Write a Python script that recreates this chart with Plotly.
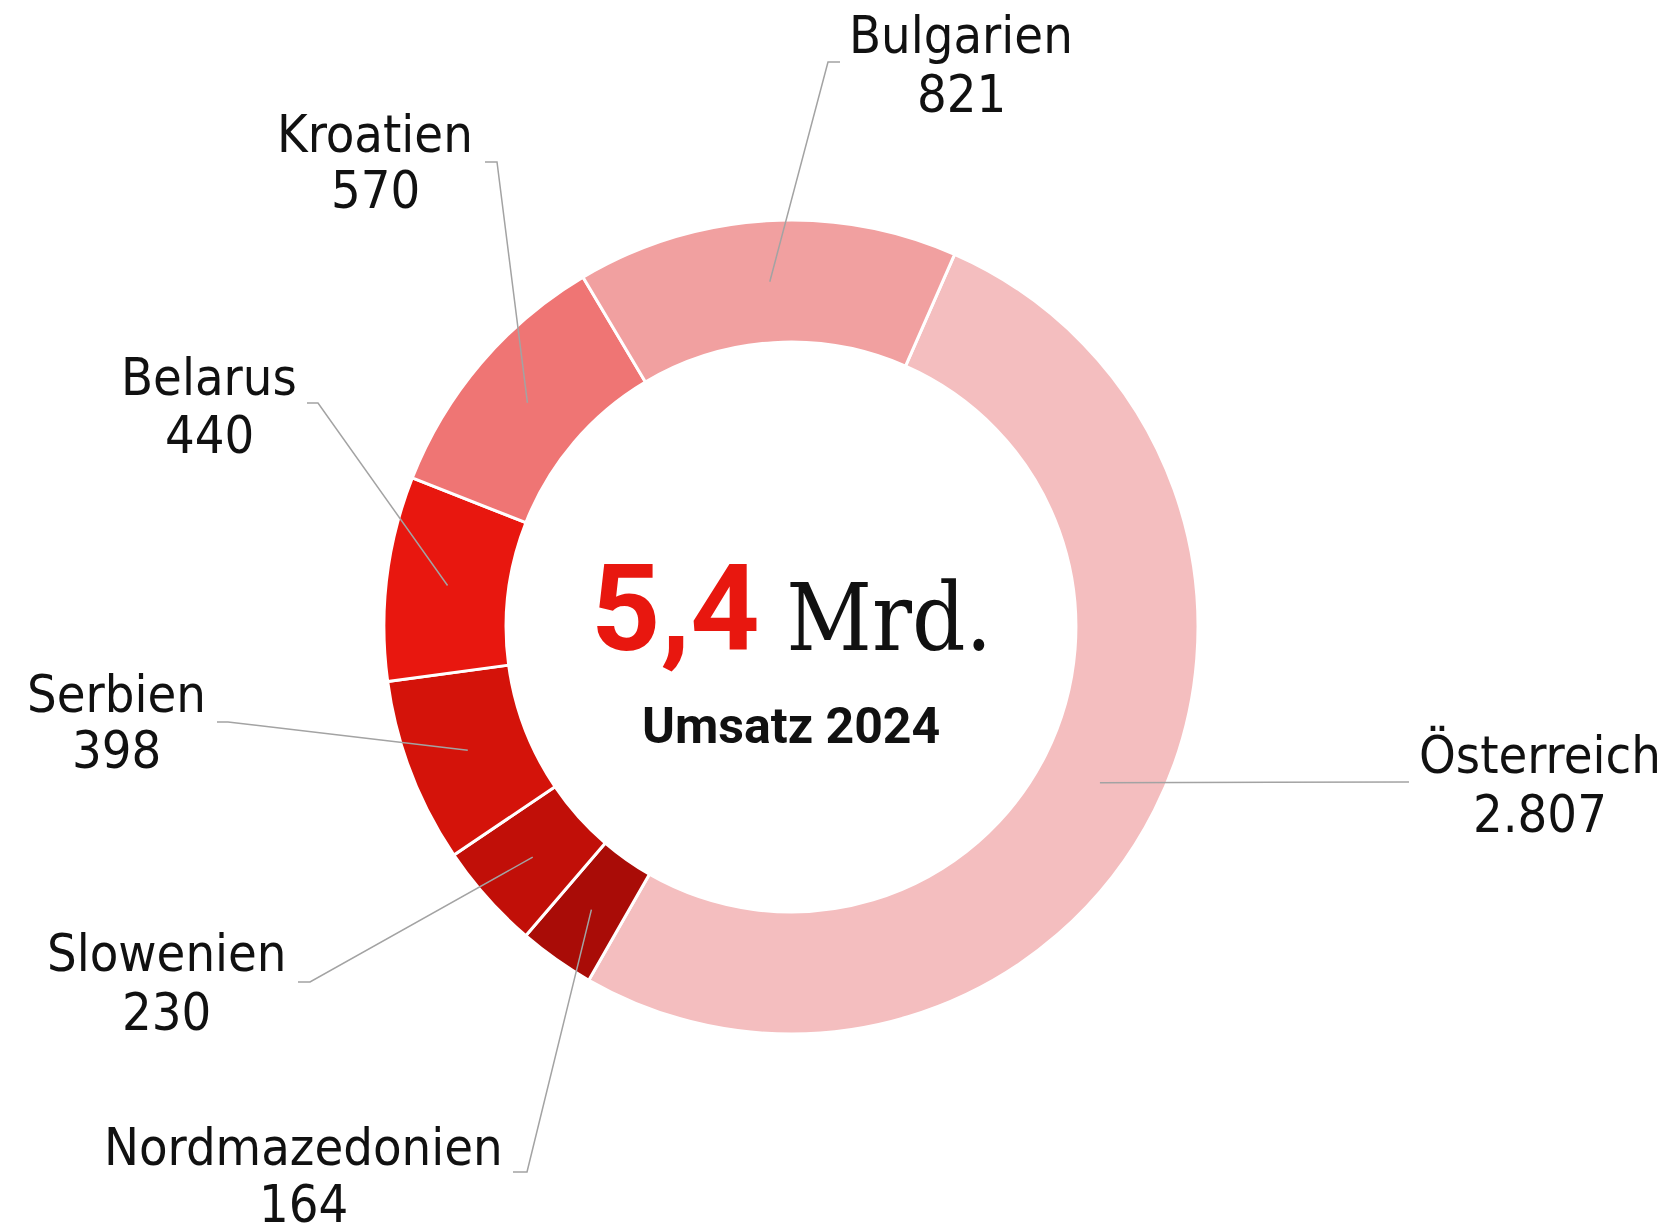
import math
import plotly.graph_objects as go

# ---------------- data ----------------
countries = ["Österreich", "Nordmazedonien", "Slowenien", "Serbien", "Belarus", "Kroatien", "Bulgarien"]
values = [2807, 164, 230, 398, 440, 570, 821]
colors = ["#F4BEBF", "#A90C07", "#C10F08", "#D4130A", "#E8170F", "#EF7574", "#F1A0A0"]
center_label = "Umsatz 2024"
center_unit = "Mrd."

# ---------------- layout constants (pixels, page coordinates) ----------------
W, H = 1672, 1227
OFF = 8  # default page margin of the html body
CX, CY, R = 791, 627, 407
HOLE = 0.70
ROT = 23.7
LABEL_FONT = "DejaVu Sans Condensed, DejaVu Sans, sans-serif"
LABEL_SIZE = 52

# per label: text centre x, name baseline, value baseline, elbow x, elbow y, stub end x
label_pos = {
    "Österreich":     (1540, 773, 832, 1409, 782, 1409),
    "Nordmazedonien": (303, 1165, 1222, 527, 1172, 513),
    "Slowenien":      (166, 971, 1030, 310, 982, 298),
    "Serbien":        (116, 712, 768, 228, 722, 217),
    "Belarus":        (209, 395, 453, 318, 403, 307),
    "Kroatien":       (375, 152, 208, 497, 162, 485),
    "Bulgarien":      (961, 53, 112, 828, 62, 840),
}


def px(x):
    return (x - OFF) / W


def py(y):
    return 1 - (y - OFF) / H


def fmt(v):
    return f"{v:,}".replace(",", ".")


total = sum(values)

fig = go.Figure(
    go.Pie(
        labels=countries,
        values=values,
        sort=False,
        direction="clockwise",
        rotation=ROT,
        hole=HOLE,
        marker=dict(colors=colors, line=dict(color="white", width=3)),
        textinfo="none",
        hoverinfo="label+value",
        showlegend=False,
        domain=dict(x=[px(CX - R), px(CX + R)], y=[py(CY + R), py(CY - R)]),
    )
)

annotations = []
shapes = []
asc, desc = 0.928, 0.236
cum = 0
r_mid = R * (1 + HOLE) / 2
for name, v in zip(countries, values):
    mid = ROT + 360 * (cum + v / 2) / total
    cum += v
    a = math.radians(mid)
    x0 = CX + r_mid * math.sin(a)
    y0 = CY - r_mid * math.cos(a)
    tx, nb, vb, ex, ey, sx = label_pos[name]
    shapes.append(dict(
        type="path", xref="paper", yref="paper", layer="above",
        path=f"M {px(x0)},{py(y0)} L {px(ex)},{py(ey)} L {px(sx)},{py(ey)}",
        line=dict(color="#A3A3A3", width=1.5),
    ))
    for txt, base in ((name, nb), (fmt(v), vb)):
        annotations.append(dict(
            x=px(tx), y=py(base - (asc - desc) / 2 * LABEL_SIZE),
            xref="paper", yref="paper", xanchor="center", yanchor="middle",
            text=txt, showarrow=False,
            font=dict(family=LABEL_FONT, size=LABEL_SIZE, color="#111111"),
        ))

big = f"{total / 1000:.1f}".replace(".", ",")
annotations.append(dict(
    x=px(CX), y=py(609), xref="paper", yref="paper", xanchor="center", yanchor="middle",
    showarrow=False,
    text=(f"<span style='font-family:Roboto;font-weight:bold;font-size:121px;color:#E8170F'>{big}</span>"
          f"<span style='font-family:DejaVu Serif Condensed, DejaVu Serif;font-size:93px;color:#111111'> {center_unit}</span>"),
    font=dict(family="Roboto", size=93, color="#111111"),
))
annotations.append(dict(
    x=px(CX), y=py(726), xref="paper", yref="paper", xanchor="center", yanchor="middle",
    showarrow=False, text=f"<b>{center_label}</b>",
    font=dict(family="Roboto", size=50, color="#111111"),
))

fig.update_layout(
    width=W, height=H,
    margin=dict(l=0, r=0, t=0, b=0),
    paper_bgcolor="white", plot_bgcolor="white",
    annotations=annotations, shapes=shapes,
)

fig.write_html("out.html")
